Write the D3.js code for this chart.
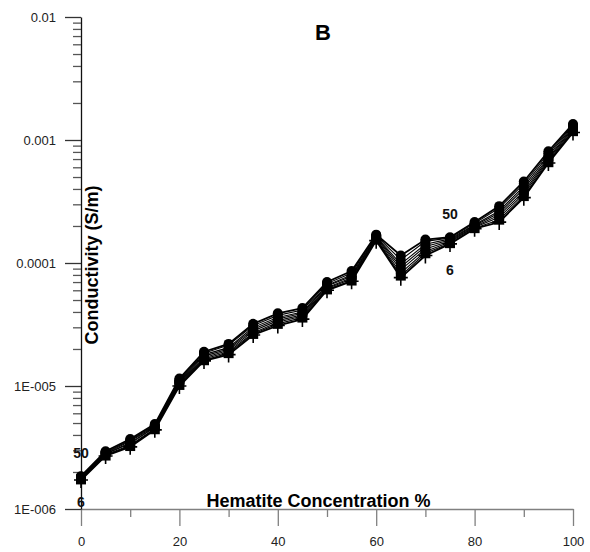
<!DOCTYPE html>
<html>
<head>
<meta charset="utf-8">
<script src="https://cdn.jsdelivr.net/npm/d3@7/dist/d3.min.js"></script>
<style>
  html, body { margin: 0; padding: 0; background: #fff; }
  svg { display: block; font-family: "Liberation Sans", Arial, sans-serif; }
</style>
</head>
<body>
<svg id="chart" width="590" height="552"></svg>
<script>
// Hematite concentration (%)
const concentration = [0, 5, 10, 15, 20, 25, 30, 35, 40, 45, 50, 55, 60, 65, 70, 75, 80, 85, 90, 95, 100];

// Conductivity (S/m), one series per curve (labelled 6 ... 50)
const s50 = [1.85e-6, 2.95e-6, 3.7e-6, 4.9e-6, 1.15e-5, 1.9e-5, 2.2e-5, 3.2e-5, 3.9e-5, 4.3e-5, 7.0e-5, 8.6e-5, 1.7e-4, 1.15e-4, 1.55e-4, 1.62e-4, 2.15e-4, 2.9e-4, 4.6e-4, 8.1e-4, 1.35e-3];
const s40 = [1.83e-6, 2.9e-6, 3.6e-6, 4.8e-6, 1.12e-5, 1.85e-5, 2.15e-5, 3.1e-5, 3.75e-5, 4.15e-5, 6.8e-5, 8.3e-5, 1.67e-4, 1.06e-4, 1.5e-4, 1.6e-4, 2.1e-4, 2.8e-4, 4.4e-4, 7.8e-4, 1.32e-3];
const s30 = [1.81e-6, 2.85e-6, 3.55e-6, 4.7e-6, 1.1e-5, 1.8e-5, 2.05e-5, 3.0e-5, 3.6e-5, 4.0e-5, 6.6e-5, 8.0e-5, 1.64e-4, 9.8e-5, 1.42e-4, 1.57e-4, 2.05e-4, 2.65e-4, 4.2e-4, 7.5e-4, 1.29e-3];
const s25 = [1.8e-6, 2.82e-6, 3.45e-6, 4.65e-6, 1.08e-5, 1.75e-5, 2.0e-5, 2.9e-5, 3.5e-5, 3.9e-5, 6.5e-5, 7.8e-5, 1.62e-4, 9.3e-5, 1.36e-4, 1.54e-4, 2.02e-4, 2.55e-4, 4.0e-4, 7.2e-4, 1.26e-3];
const s20 = [1.78e-6, 2.8e-6, 3.4e-6, 4.6e-6, 1.06e-5, 1.7e-5, 1.95e-5, 2.8e-5, 3.4e-5, 3.8e-5, 6.3e-5, 7.6e-5, 1.6e-4, 8.8e-5, 1.3e-4, 1.51e-4, 1.98e-4, 2.45e-4, 3.8e-4, 7.0e-4, 1.23e-3];
const s15 = [1.76e-6, 2.76e-6, 3.3e-6, 4.5e-6, 1.04e-5, 1.66e-5, 1.9e-5, 2.7e-5, 3.3e-5, 3.7e-5, 6.2e-5, 7.4e-5, 1.57e-4, 8.3e-5, 1.24e-4, 1.48e-4, 1.95e-4, 2.35e-4, 3.65e-4, 6.8e-4, 1.2e-3];
const s10 = [1.74e-6, 2.72e-6, 3.25e-6, 4.45e-6, 1.02e-5, 1.62e-5, 1.85e-5, 2.65e-5, 3.2e-5, 3.6e-5, 6.1e-5, 7.2e-5, 1.55e-4, 7.9e-5, 1.2e-4, 1.45e-4, 1.92e-4, 2.25e-4, 3.5e-4, 6.6e-4, 1.18e-3];
const s6  = [1.72e-6, 2.7e-6, 3.2e-6, 4.4e-6, 1.0e-5, 1.6e-5, 1.8e-5, 2.6e-5, 3.1e-5, 3.5e-5, 6.0e-5, 7.1e-5, 1.52e-4, 7.6e-5, 1.15e-4, 1.43e-4, 1.9e-4, 2.15e-4, 3.4e-4, 6.5e-4, 1.15e-3];

const seriesNames = ["50", "40", "30", "25", "20", "15", "10", "6"];
const seriesValues = [s50, s40, s30, s25, s20, s15, s10, s6];
const seriesMarkers = ["circle", "circle", "circle", "circle", "circle", "circle", "square", "plus"];

// Tick values / labels
const yMajorTicks = [1e-6, 1e-5, 1e-4, 1e-3, 1e-2];
const yMajorLabels = ["1E-006", "1E-005", "0.0001", "0.001", "0.01"];
const xMajorTicks = [0, 20, 40, 60, 80, 100];
const xMinorTicks = [10, 30, 50, 70, 90];

// Curve-end annotations [x, y, text]
const annotations = [
  [75, 2.28e-4, "50"],
  [75, 7.98e-5, "6"],
  [0, 2.6e-6, "50"],
  [0, 1.04e-6, "6"]
];

const svg = d3.select("#chart");
const plotLeft = 81, plotRight = 573, plotTop = 17, plotBottom = 509;

const x = d3.scaleLinear().domain([0, 100]).range([plotLeft, plotRight]);
const y = d3.scaleLog().domain([1e-6, 1e-2]).range([plotBottom, plotTop]);

// minor y ticks 2..9 for each decade
const yMinorTicks = [];
for (let d = 0; d < yMajorTicks.length - 1; d++) {
  for (let m = 2; m <= 9; m++) yMinorTicks.push(yMajorTicks[d] * m);
}

// X axis (gray)
const xAxisG = svg.append("g").attr("transform", `translate(0,${plotBottom})`)
  .call(d3.axisBottom(x).tickValues(xMajorTicks).tickSize(17).tickSizeOuter(0).tickPadding(11)
    .tickFormat(d3.format("d")));
xAxisG.select(".domain").attr("stroke", "#808080").attr("stroke-width", 1.3);
xAxisG.selectAll(".tick line").attr("stroke", "#808080").attr("stroke-width", 1.3);
xAxisG.selectAll(".tick text").attr("font-size", 13).attr("fill", "#222")
  .attr("font-family", "Liberation Sans, Arial, sans-serif");

const xMinorG = svg.append("g").attr("transform", `translate(0,${plotBottom})`)
  .call(d3.axisBottom(x).tickValues(xMinorTicks).tickSize(8).tickFormat(""));
xMinorG.select(".domain").remove();
xMinorG.selectAll(".tick line").attr("stroke", "#808080").attr("stroke-width", 1.3);

// Y axis
const yAxisG = svg.append("g").attr("transform", `translate(${plotLeft},0)`)
  .call(d3.axisLeft(y).tickValues(yMajorTicks).tickSize(16).tickSizeOuter(0).tickPadding(9)
    .tickFormat((d, i) => yMajorLabels[i]));
yAxisG.select(".domain").attr("stroke", "#111").attr("stroke-width", 1.3);
yAxisG.selectAll(".tick line").attr("stroke", "#333").attr("stroke-width", 1.3);
yAxisG.selectAll(".tick text").attr("font-size", 13).attr("fill", "#222")
  .attr("font-family", "Liberation Sans, Arial, sans-serif");

const yMinorG = svg.append("g").attr("transform", `translate(${plotLeft},0)`)
  .call(d3.axisLeft(y).tickValues(yMinorTicks).tickSize(8).tickFormat(""));
yMinorG.select(".domain").remove();
yMinorG.selectAll(".tick line").attr("stroke", "#555").attr("stroke-width", 1.3);

// Lines
const line = d3.line().x((d, i) => x(concentration[i])).y(d => y(d));
const plot = svg.append("g");
seriesValues.forEach((vals, si) => {
  plot.append("path").datum(vals).attr("d", line)
    .attr("fill", "none").attr("stroke", "#000")
    .attr("stroke-width", (si === 0 || si === seriesValues.length - 1) ? 1.8 : 1.1);
});

// Markers
seriesValues.forEach((vals, si) => {
  const kind = seriesMarkers[si];
  const g = plot.append("g");
  vals.forEach((v, i) => {
    const cx = x(concentration[i]), cy = y(v);
    if (kind === "circle") {
      g.append("circle").attr("cx", cx).attr("cy", cy).attr("r", 5).attr("fill", "#000");
    } else if (kind === "square") {
      g.append("rect").attr("x", cx - 5).attr("y", cy - 5).attr("width", 10).attr("height", 10)
        .attr("fill", "#000");
    } else {
      g.append("path").attr("d", `M${cx - 7},${cy}H${cx + 7}M${cx},${cy - 7}V${cy + 8}`)
        .attr("stroke", "#000").attr("stroke-width", 1.6).attr("fill", "none");
    }
  });
});

// Annotations
svg.append("g").selectAll("text").data(annotations).join("text")
  .attr("x", d => x(d[0])).attr("y", d => y(d[1]))
  .attr("text-anchor", "middle").attr("font-size", 14).attr("font-weight", "bold")
  .attr("fill", "#111").text(d => d[2]);

// Title
svg.append("text").attr("x", 323).attr("y", 40).attr("text-anchor", "middle")
  .attr("font-size", 22).attr("font-weight", "bold").text("B");

// Axis titles
svg.append("text").attr("x", 318.5).attr("y", 507).attr("text-anchor", "middle")
  .attr("font-size", 18).attr("font-weight", "bold").text("Hematite Concentration %");
svg.append("text").attr("transform", "translate(98,265) rotate(-90)").attr("text-anchor", "middle")
  .attr("font-size", 18).attr("font-weight", "bold").text("Conductivity (S/m)");
</script>
</body>
</html>
